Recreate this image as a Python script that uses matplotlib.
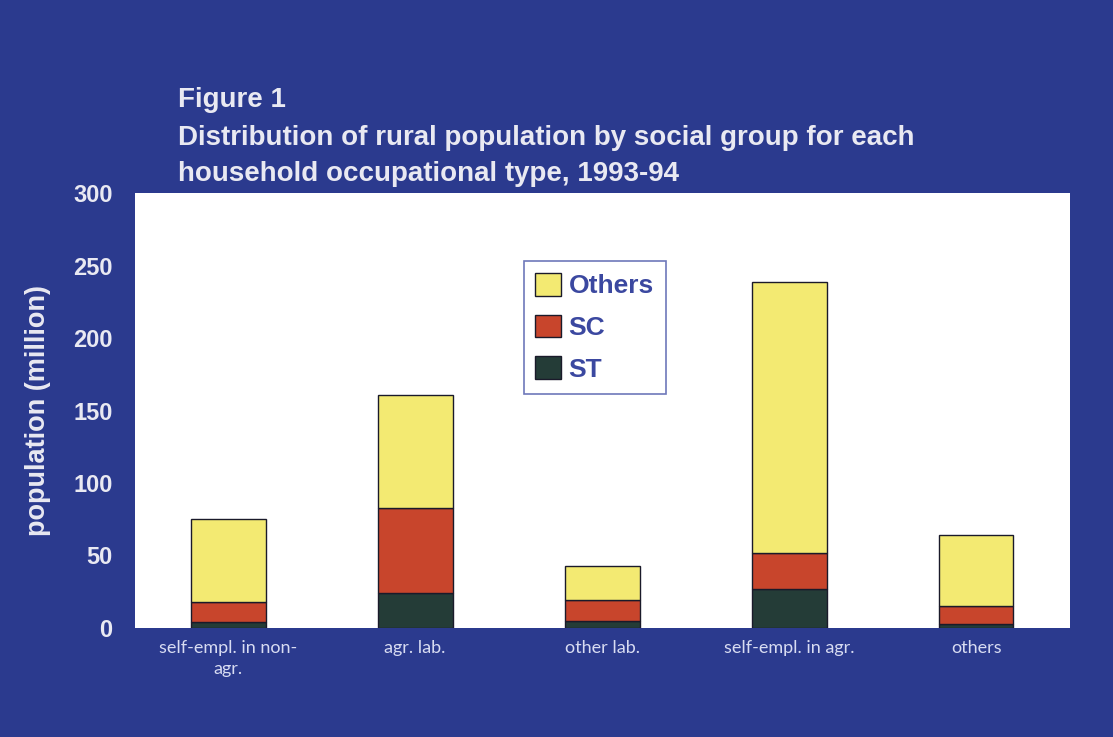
import numpy as np
import matplotlib
matplotlib.use("Agg")
from matplotlib import pyplot as plt

# data (million people)
categories = ["self-empl. in non-\nagr.", "agr. lab.", "other lab.", "self-empl. in agr.", "others"]
st = [4, 24, 5, 27, 3]
sc = [14, 59, 14, 25, 12]
others = [57, 78, 24, 187, 49]

navy = "#2b3a8e"
yellow = "#f3ea72"
red = "#c8452c"
dark = "#243c37"
txt = "#e9e9f2"

plt.rcParams["font.family"] = ["Liberation Sans", "DejaVu Sans"]

fig = plt.figure(figsize=(11.13, 7.37), dpi=100)
fig.patch.set_facecolor(navy)
ax = fig.add_axes([0.121, 0.148, 0.840, 0.590])
ax.set_facecolor("white")

x = np.arange(len(categories))
w = 0.4
st_a = np.array(st)
sc_a = np.array(sc)
ot_a = np.array(others)
ax.bar(x, st_a, w, color=dark, edgecolor="#1a1a2a", linewidth=1, label="ST")
ax.bar(x, sc_a, w, bottom=st_a, color=red, edgecolor="#1a1a2a", linewidth=1, label="SC")
ax.bar(x, ot_a, w, bottom=st_a + sc_a, color=yellow, edgecolor="#1a1a2a", linewidth=1, label="Others")

ax.set_xlim(-0.5, len(categories) - 0.5)
ax.set_ylim(0, 300)
ax.set_yticks(range(0, 301, 50))
ax.set_xticks(x)
ax.set_xticklabels(categories, fontsize=13, color="#d8dcf2", family=["Lato", "DejaVu Sans"], linespacing=1.35)
for lab in ax.get_yticklabels():
    lab.set_fontsize(17)
    lab.set_fontweight("bold")
    lab.set_color(txt)
ax.tick_params(axis="both", length=0)
ax.tick_params(axis="y", pad=16)
ax.tick_params(axis="x", pad=9)
for s in ax.spines.values():
    s.set_visible(False)

ax.set_ylabel("population (million)", fontsize=19.5, fontweight="bold", color=txt, labelpad=16)

handles, labels = ax.get_legend_handles_labels()
leg = ax.legend(handles[::-1], labels[::-1], loc="upper left", bbox_to_anchor=(0.416, 0.844),
                fontsize=19, frameon=True, fancybox=False, handlelength=0.95, handleheight=0.95,
                handletextpad=0.3, labelspacing=0.62, borderpad=0.45, borderaxespad=0)
leg.get_frame().set_edgecolor("#4a56a8")
leg.get_frame().set_linewidth(1.2)
for t in leg.get_texts():
    t.set_color("#3b48a0")
    t.set_fontweight("bold")

fig.text(0.160, 0.855, "Figure 1", fontsize=20, fontweight="bold", color=txt, va="baseline")
fig.text(0.160, 0.803, "Distribution of rural population by social group for each",
         fontsize=20, fontweight="bold", color=txt, va="baseline")
fig.text(0.160, 0.754, "household occupational type, 1993-94",
         fontsize=20, fontweight="bold", color=txt, va="baseline")

fig.savefig("out.png", dpi=100, facecolor=fig.get_facecolor())
